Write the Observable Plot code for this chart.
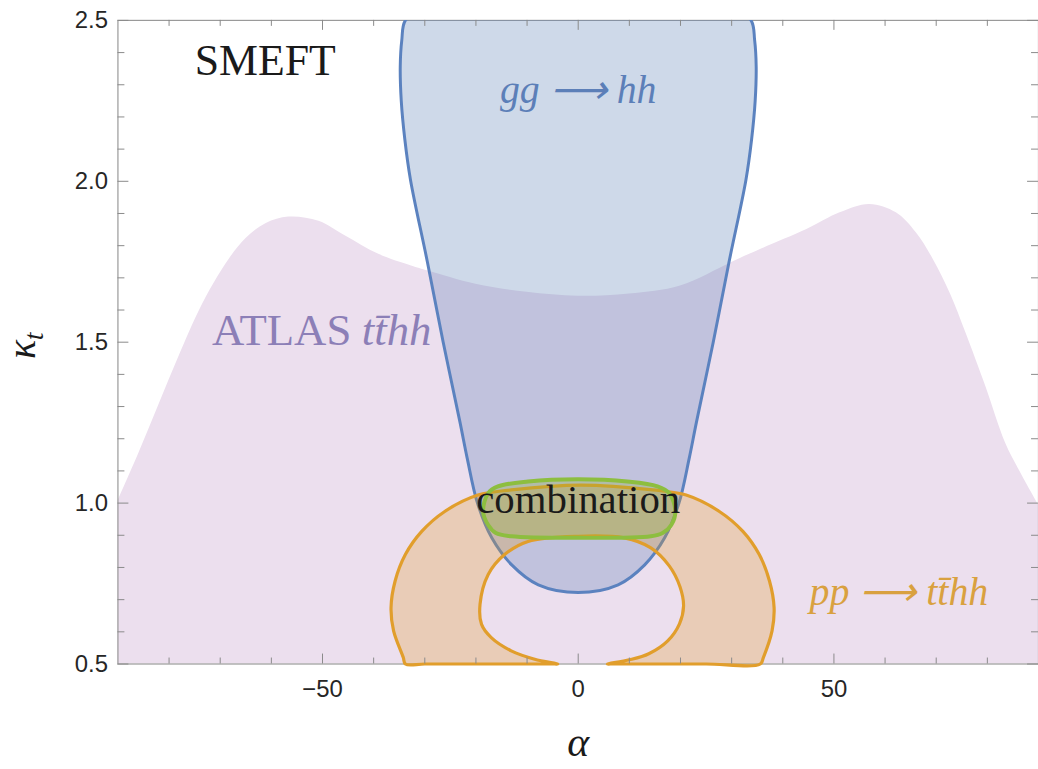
<!DOCTYPE html>
<html>
<head>
<meta charset="utf-8">
<script src="https://cdn.jsdelivr.net/npm/d3@7"></script>
<script src="https://cdn.jsdelivr.net/npm/@observablehq/plot@0.6"></script>
<style>
  html, body { margin: 0; padding: 0; background: #fff; overflow: hidden; }
  #chart { width: 1038px; height: 769px; overflow: hidden; }
</style>
</head>
<body>
<div id="chart"></div>
<script>
// Axis ticks (α horizontal, κ_t vertical)
const xMajorTicks = [-50, 0, 50];
const xMinorTicks = [-80, -70, -60, -40, -30, -20, -10, 10, 20, 30, 40, 60, 70, 80];
const yMajorTicks = [0.5, 1.0, 1.5, 2.0, 2.5];
const yMinorTicks = [0.6, 0.7, 0.8, 0.9, 1.1, 1.2, 1.3, 1.4, 1.6, 1.7, 1.8, 1.9, 2.1, 2.2, 2.3, 2.4];

// ATLAS tt̄hh: upper edge of the allowed band (filled down to κ_t = 0.5)
const atlasAlpha = [-90, -85.9, -81.9, -78.0, -74.1, -71.2, -68.1, -64.9, -61.0, -56.6, -50.7, -45.5, -39, -32.6, -29.3, -20, -10, 0, 10, 20, 30, 34.9, 44.7, 51.2, 57, 62.2, 66.1, 69.4, 72.9, 75.8, 79.7, 83.6, 86.9, 90];
const atlasKappa = [1.006, 1.155, 1.309, 1.458, 1.597, 1.683, 1.761, 1.823, 1.869, 1.889, 1.876, 1.830, 1.773, 1.737, 1.721, 1.68, 1.655, 1.643, 1.65, 1.675, 1.748, 1.783, 1.850, 1.902, 1.928, 1.902, 1.840, 1.758, 1.646, 1.529, 1.362, 1.185, 1.083, 0.995];

// gg → hh: closed contour (runs past the top of the frame)
const ggAlpha = [-33.8, -34.5, -34.8, -34.6, -33.9, -32.8, -29.5, -26.4, -23.1, -21.7, -19.7, -16.9, -13.0, -7.8, 0, 7.8, 13.0, 16.9, 19.7, 21.7, 23.1, 26.4, 29.5, 32.8, 33.9, 34.6, 34.8, 34.5, 33.8, 30, 15, 0, -15, -30];
const ggKappa = [2.5, 2.438, 2.356, 2.25, 2.13, 2.005, 1.75, 1.5, 1.25, 1.139, 1.0, 0.892, 0.808, 0.746, 0.722, 0.746, 0.808, 0.892, 1.0, 1.139, 1.25, 1.5, 1.75, 2.005, 2.13, 2.25, 2.356, 2.438, 2.5, 2.54, 2.56, 2.565, 2.56, 2.54];

// pp → tt̄hh: horseshoe, open towards κ_t = 0.5
const ppAlpha = [-20, -10, -4.6, -4.0, -8.5, -13.1, -17.0, -18.9, -19.2, -17.6, -14.4, -9.8, 0, 9.0, 14.2, 17.8, 19.9, 20.6, 19.8, 17.5, 13.8, 10.0, 5.7, 6.3, 15, 25, 35.6, 36.2, 37.9, 38.3, 37.4, 35.4, 32.2, 27.6, 21.1, 14.6, 0.5, -13.1, -19.6, -26.1, -30.6, -33.8, -35.8, -36.6, -36.1, -34.2, -33.8, -30, -20];
const ppKappa = [0.5, 0.5, 0.5, 0.5, 0.515, 0.541, 0.582, 0.623, 0.685, 0.778, 0.840, 0.881, 0.897, 0.892, 0.861, 0.805, 0.74, 0.68, 0.625, 0.572, 0.532, 0.513, 0.5, 0.5, 0.5, 0.5, 0.5, 0.52, 0.603, 0.675, 0.758, 0.84, 0.912, 0.974, 1.025, 1.041, 1.056, 1.041, 1.025, 0.974, 0.912, 0.840, 0.758, 0.675, 0.603, 0.520, 0.5, 0.5, 0.5];

// combination: closed contour
const comboAlpha = [-17.6, -15.7, -9.8, 0, 9.6, 15.5, 17.8, 19.0, 18.2, 16.5, 14.2, 0, -13.1, -16.1, -17.6, -18.6];
const comboKappa = [1.031, 1.052, 1.067, 1.074, 1.067, 1.052, 1.031, 0.974, 0.932, 0.907, 0.897, 0.892, 0.897, 0.907, 0.932, 0.974];

const zip = (a, k) => a.map((v, i) => ({alpha: v, kappa: k[i]}));
const atlas = zip(atlasAlpha, atlasKappa);
const gg = zip(ggAlpha, ggKappa);
const pp = zip(ppAlpha, ppKappa);
const combo = zip(comboAlpha, comboKappa);

const W = 1043, H = 769, mL = 118, mR = 0, mT = 20, mB = 102.3;
const innerW = W - mL - mR, innerH = H - mT - mB;
const tickColor = "#8a8a8a";
const serif = "Liberation Serif, Times New Roman, serif";

const chart = Plot.plot({
  width: W,
  height: H,
  marginLeft: mL,
  marginRight: mR,
  marginTop: mT,
  marginBottom: mB,
  style: {background: "#fff", color: "#262626", fontFamily: "Liberation Sans, Arial, sans-serif", fontSize: "24px"},
  x: {domain: [-90, 90], ticks: xMajorTicks, tickSize: 0, tickPadding: 16, tickFormat: d3.format("d"), label: null},
  y: {domain: [0.5, 2.5], ticks: yMajorTicks, tickSize: 0, tickPadding: 10, tickFormat: d3.format(".1f"), label: null},
  marks: [
    Plot.areaY(atlas, {x: "alpha", y1: 0.5, y2: "kappa", fill: "#ecdfee", curve: "catmull-rom"}),
    Plot.frame({stroke: "#9a9a9a", strokeWidth: 1.2}),
    Plot.line(gg, {x: "alpha", y: "kappa", curve: "catmull-rom-closed", fill: "#5e81b5", fillOpacity: 0.3, stroke: "#5b82bf", strokeWidth: 3, clip: true}),
    Plot.line(pp, {x: "alpha", y: "kappa", curve: "catmull-rom", fill: "#e19c24", fillOpacity: 0.27, stroke: "#e19e2c", strokeWidth: 3.2}),
    Plot.line(combo, {x: "alpha", y: "kappa", curve: "catmull-rom-closed", fill: "#8fb032", fillOpacity: 0.3, stroke: "#8dbe3f", strokeWidth: 4}),
    // inward frame ticks on all four sides
    Plot.ruleX(xMajorTicks, {x: d => d, insetTop: innerH - 10, stroke: tickColor}),
    Plot.ruleX(xMinorTicks, {x: d => d, insetTop: innerH - 6, stroke: tickColor}),
    Plot.ruleX(xMajorTicks, {x: d => d, insetBottom: innerH - 10, stroke: tickColor}),
    Plot.ruleX(xMinorTicks, {x: d => d, insetBottom: innerH - 6, stroke: tickColor}),
    Plot.ruleY(yMajorTicks, {y: d => d, insetRight: innerW - 11, stroke: tickColor}),
    Plot.ruleY(yMinorTicks, {y: d => d, insetRight: innerW - 7, stroke: tickColor}),
    Plot.ruleY(yMajorTicks, {y: d => d, insetLeft: innerW - 11, stroke: tickColor}),
    Plot.ruleY(yMinorTicks, {y: d => d, insetLeft: innerW - 7, stroke: tickColor}),
    // region labels
    Plot.text(["SMEFT"], {x: -61.2, y: 2.33, text: d => d, fontFamily: serif, fontSize: 44, fill: "#1a1a1a", textAnchor: "middle", lineAnchor: "bottom"}),
    Plot.text(["gg \u27F6 hh"], {x: 0, y: 2.243, text: d => d, fontFamily: serif, fontStyle: "italic", fontSize: 40, fill: "#5c7fb8", textAnchor: "middle", lineAnchor: "bottom"}),
    Plot.text(["ATLAS"], {x: -71.6, y: 1.49, text: d => d, fontFamily: serif, fontSize: 45, fill: "#8c7fb7", textAnchor: "start", lineAnchor: "bottom"}),
    Plot.text(["tt\u0304hh"], {x: -28.7, y: 1.49, text: d => d, fontFamily: serif, fontStyle: "italic", fontSize: 45, fill: "#8c7fb7", textAnchor: "end", lineAnchor: "bottom"}),
    Plot.text(["combination"], {x: 0, y: 0.969, text: d => d, fontFamily: serif, fontSize: 41, fill: "#1a1a1a", textAnchor: "middle", lineAnchor: "bottom"}),
    Plot.text(["pp \u27F6 tt\u0304hh"], {x: 62.7, y: 0.684, text: d => d, fontFamily: serif, fontStyle: "italic", fontSize: 40, fill: "#d9a13f", textAnchor: "middle", lineAnchor: "bottom"}),
    // axis titles
    Plot.text(["α"], {frameAnchor: "bottom", dy: 92, text: d => d, fontFamily: serif, fontStyle: "italic", fontSize: 42, fill: "#1a1a1a", textAnchor: "middle", lineAnchor: "bottom"}),
    Plot.text(["κ"], {frameAnchor: "left", dx: -83, dy: 17, rotate: -90, text: d => d, fontFamily: serif, fontStyle: "italic", fontSize: 40, fill: "#1a1a1a", textAnchor: "start", lineAnchor: "bottom"}),
    Plot.text(["t"], {frameAnchor: "left", dx: -75, dy: -2, rotate: -90, text: d => d, fontFamily: serif, fontStyle: "italic", fontSize: 28, fill: "#1a1a1a", textAnchor: "start", lineAnchor: "bottom"})
  ]
});

document.getElementById("chart").appendChild(chart);
</script>
</body>
</html>
